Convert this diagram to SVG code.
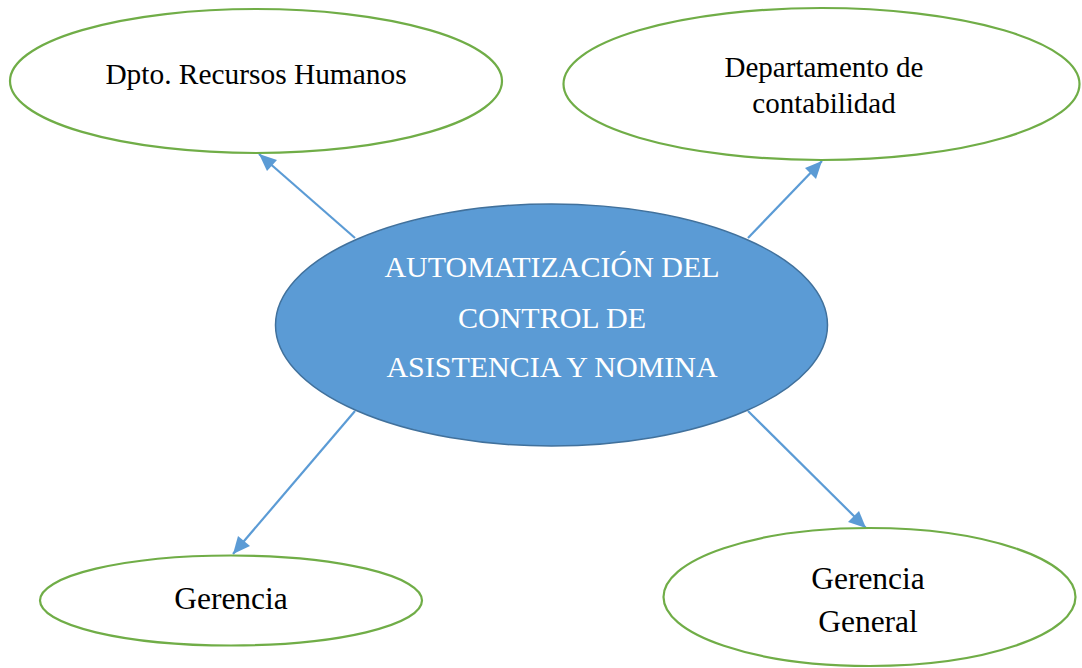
<svg xmlns="http://www.w3.org/2000/svg" width="1082" height="668" viewBox="0 0 1082 668">
<style>
.out{fill:#fff;stroke:#70AD47;stroke-width:2.2}
.ctr{fill:#5B9BD5;stroke:#41719C;stroke-width:1.5}
.t{font-family:"Liberation Serif","Times New Roman",serif;fill:#000;text-anchor:middle}
.w{font-family:"Liberation Serif","Times New Roman",serif;fill:#fff;text-anchor:middle;font-size:30px}
.c{stroke:#5B9BD5;stroke-width:2.2;fill:none}
.h{fill:#5B9BD5}
</style>
<g id="connectors">
<path class="c" d="M355,238 L259,154"/>
<path class="h" d="M259,154 L277,160 L267,171 z"/>
<path class="c" d="M748,238 L822,161"/>
<path class="h" d="M822,161 L816,179 L805,168 z"/>
<path class="c" d="M355,411 L233,554"/>
<path class="h" d="M233,554 L238,536 L250,546 z"/>
<path class="c" d="M748,411 L866,528"/>
<path class="h" d="M866,528 L848,522 L859,511 z"/>
</g>
<g id="center">
<ellipse class="ctr" cx="551.5" cy="325" rx="276" ry="121"/>
<text class="w" x="552" y="277">AUTOMATIZACIÓN DEL</text>
<text class="w" x="552" y="328">CONTROL DE</text>
<text class="w" x="552" y="377">ASISTENCIA Y NOMINA</text>
</g>
<g id="rrhh">
<ellipse class="out" cx="256" cy="81" rx="246" ry="72"/>
<text class="t" x="256" y="84" font-size="29.4">Dpto. Recursos Humanos</text>
</g>
<g id="contabilidad">
<ellipse class="out" cx="821.5" cy="84" rx="258" ry="76"/>
<text class="t" x="824" y="77" font-size="29">Departamento de</text>
<text class="t" x="824" y="113" font-size="29">contabilidad</text>
</g>
<g id="gerencia">
<ellipse class="out" cx="231" cy="600.5" rx="191" ry="45"/>
<text class="t" x="231" y="609" font-size="31.5">Gerencia</text>
</g>
<g id="gerencia-general">
<ellipse class="out" cx="869.5" cy="597" rx="206" ry="69"/>
<text class="t" x="868" y="589" font-size="31.5">Gerencia</text>
<text class="t" x="868" y="632" font-size="31.5">General</text>
</g>
</svg>
